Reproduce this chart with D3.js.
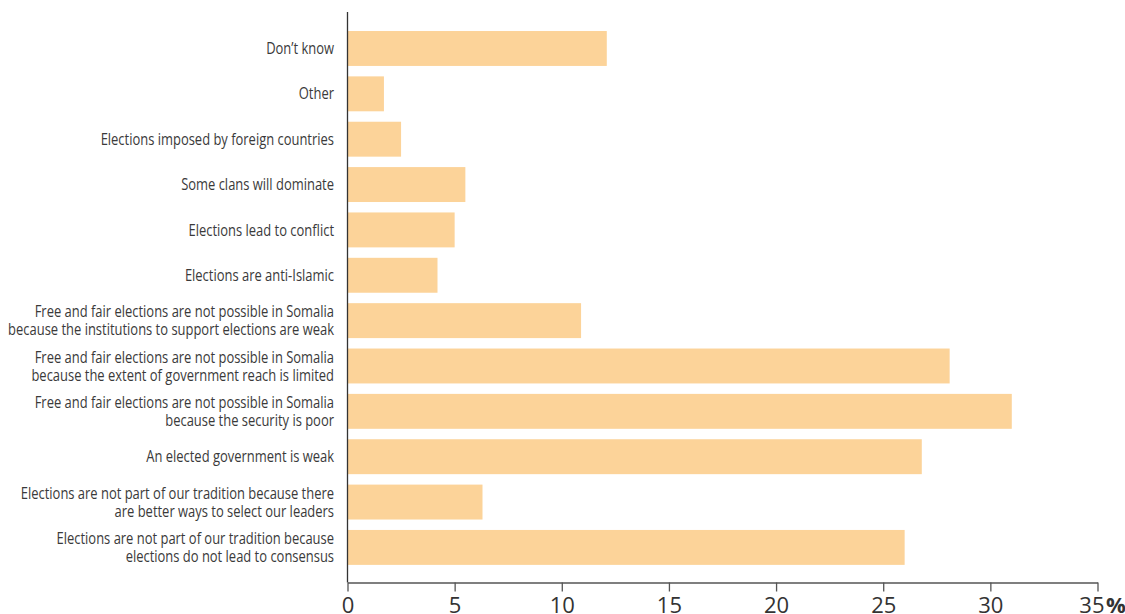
<!DOCTYPE html>
<html>
<head>
<meta charset="utf-8">
<script src="https://cdn.jsdelivr.net/npm/d3@7"></script>
<style>
  html, body { margin: 0; padding: 0; background: #fff; }
  svg { display: block; }
</style>
</head>
<body>
<svg id="chart" width="1125" height="614"></svg>
<script>
// Reasons given, top to bottom; each label is split into its printed lines
const categories = [
  ["Don\u2019t know"],
  ["Other"],
  ["Elections imposed by foreign countries"],
  ["Some clans will dominate"],
  ["Elections lead to conflict"],
  ["Elections are anti-Islamic"],
  ["Free and fair elections are not possible in Somalia", "because the institutions to support elections are weak"],
  ["Free and fair elections are not possible in Somalia", "because the extent of government reach is limited"],
  ["Free and fair elections are not possible in Somalia", "because the security is poor"],
  ["An elected government is weak"],
  ["Elections are not part of our tradition because there", "are better ways to select our leaders"],
  ["Elections are not part of our tradition because", "elections do not lead to consensus"]
];

// Share of respondents (%)
const values = [12.1, 1.7, 2.5, 5.5, 5.0, 4.2, 10.9, 28.1, 31.0, 26.8, 6.3, 26.0];

const xTicks = [0, 5, 10, 15, 20, 25, 30, 35];

const svg = d3.select("#chart");

const x = d3.scaleLinear().domain([0, 35]).range([347.5, 1097.5]);
const y = d3.scaleBand()
  .domain(d3.range(categories.length))
  .range([25.8, 570.1])
  .paddingInner(0.23)
  .paddingOuter(0.115);

// Bars
svg.append("g")
  .selectAll("rect")
  .data(values)
  .join("rect")
  .attr("x", x(0))
  .attr("y", (d, i) => y(i))
  .attr("width", d => x(d) - x(0))
  .attr("height", y.bandwidth())
  .attr("fill", "#fcd399");

// Category labels, set in a horizontally condensed face
const labelRight = 334;
const condense = 0.81;
const lineHeight = 18;
const labels = svg.append("g")
  .attr("font-family", "'Open Sans', sans-serif")
  .attr("font-size", 16)
  .attr("fill", "#3a3a3a")
  .attr("text-anchor", "end");

categories.forEach((lines, i) => {
  const cy = y(i) + y.bandwidth() / 2;
  const t = labels.append("text")
    .attr("transform", `translate(${labelRight},${cy}) scale(${condense},1)`);
  lines.forEach((ln, j) => {
    t.append("tspan")
      .attr("x", 0)
      .attr("y", (j - (lines.length - 1) / 2) * lineHeight)
      .attr("dy", "0.35em")
      .text(ln);
  });
});

// Vertical axis line
svg.append("line")
  .attr("x1", x(0)).attr("x2", x(0))
  .attr("y1", 12).attr("y2", 582.5)
  .attr("stroke", "#333").attr("stroke-width", 1.3);

// Horizontal value axis
const xAxis = d3.axisBottom(x)
  .tickValues(xTicks)
  .tickSize(9)
  .tickSizeOuter(0)
  .tickPadding(5.5)
  .tickFormat(d3.format("d"));

const ax = svg.append("g")
  .attr("transform", "translate(0,582.5)")
  .call(xAxis);

ax.select(".domain").attr("stroke", "#555").attr("stroke-width", 1.3);
ax.selectAll(".tick line").attr("stroke", "#555").attr("stroke-width", 1.3);
ax.selectAll(".tick text")
  .attr("font-family", "'Open Sans', sans-serif")
  .attr("font-size", 22)
  .attr("fill", "#333");

// Last tick label makes room for the unit sign
const lastTick = ax.selectAll(".tick").filter(d => d === 35);
lastTick.select("text").attr("text-anchor", "end").attr("x", 6.5);

lastTick.append("text")
  .attr("x", 8)
  .attr("y", 14.5)
  .attr("dy", "0.71em")
  .attr("text-anchor", "start")
  .attr("font-family", "'Open Sans', sans-serif")
  .attr("font-size", 22)
  .attr("font-weight", "bold")
  .attr("fill", "#333")
  .text("%");
</script>
</body>
</html>
